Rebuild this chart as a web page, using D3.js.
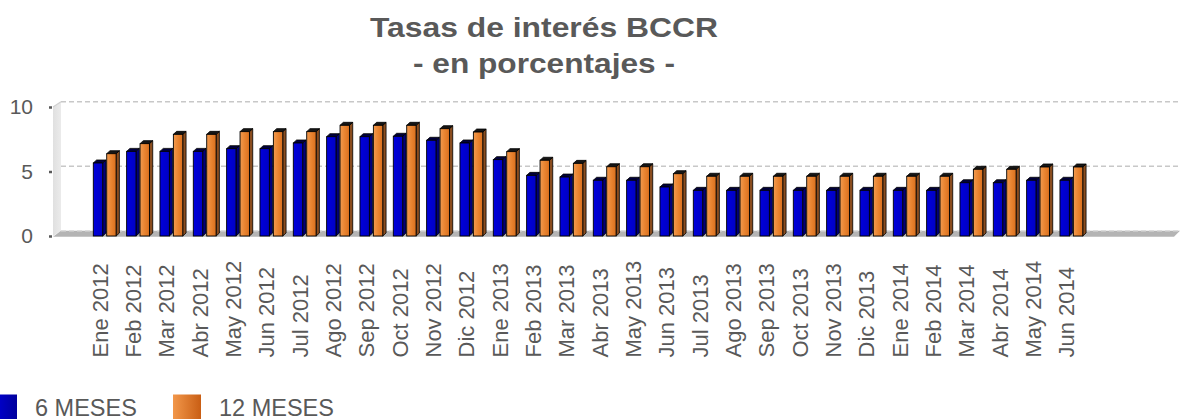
<!DOCTYPE html>
<html>
<head>
<meta charset="utf-8">
<script src="https://cdn.jsdelivr.net/npm/d3@7"></script>
<style>
  html, body { margin: 0; padding: 0; background: #fff; }
  svg { display: block; font-family: "Liberation Sans", Arial, sans-serif; }
</style>
</head>
<body>
<script>
// Tasas de interés BCCR, en porcentajes
const months = [
  "Ene 2012","Feb 2012","Mar 2012","Abr 2012","May 2012","Jun 2012",
  "Jul 2012","Ago 2012","Sep 2012","Oct 2012","Nov 2012","Dic 2012",
  "Ene 2013","Feb 2013","Mar 2013","Abr 2013","May 2013","Jun 2013",
  "Jul 2013","Ago 2013","Sep 2013","Oct 2013","Nov 2013","Dic 2013",
  "Ene 2014","Feb 2014","Mar 2014","Abr 2014","May 2014","Jun 2014"
];
const seriesNames = ["6 MESES", "12 MESES"];
const tasa6 = [
  5.66, 6.56, 6.56, 6.56, 6.77, 6.77, 7.21, 7.70, 7.70, 7.73, 7.42, 7.21,
  5.92, 4.70, 4.57, 4.32, 4.32, 3.80, 3.54, 3.54, 3.54, 3.54, 3.54, 3.54,
  3.54, 3.54, 4.13, 4.13, 4.32, 4.32
];
const tasa12 = [
  6.38, 7.16, 7.88, 7.88, 8.09, 8.09, 8.09, 8.58, 8.58, 8.58, 8.32, 8.06,
  6.54, 5.87, 5.63, 5.37, 5.37, 4.83, 4.63, 4.63, 4.63, 4.63, 4.63, 4.63,
  4.63, 4.63, 5.17, 5.17, 5.35, 5.35
];
const yTicks = [0, 5, 10];
const titleLines = ["Tasas de interés BCCR", "- en porcentajes -"];

const W = 1180, H = 419;
const textColor = "#595959";

const svg = d3.select("body").append("svg")
  .attr("width", W).attr("height", H);

// scales
const x = d3.scaleBand().domain(months).range([89.5, 1089.5]);
const xs = d3.scaleBand().domain(seriesNames).range([3.8, 26.6]).paddingInner(0.3);
const y = d3.scaleLinear().domain([0, 10]).range([236, 107]);

// 3D offsets: walls/floor depth and bar depth
const WDX = 8, WDY = 5.3;
const BDX = 3.3, BDY = 3;
const wallX = 53, plotRight = 1180;

// gradients
const defs = svg.append("defs");
function hGrad(id, stops) {
  const g = defs.append("linearGradient").attr("id", id)
    .attr("x1", "0%").attr("x2", "100%").attr("y1", "0%").attr("y2", "0%");
  stops.forEach(([o, c]) => g.append("stop").attr("offset", o).attr("stop-color", c));
}
hGrad("gBlue", [["0%", "#0000dc"], ["100%", "#0000c4"]]);
hGrad("gOrange", [["0%", "#f29a4e"], ["55%", "#e8822e"], ["100%", "#d96f1e"]]);
hGrad("gBlueKey", [["0%", "#0000e0"], ["100%", "#00009c"]]);
hGrad("gOrangeKey", [["0%", "#f2974a"], ["100%", "#c95e14"]]);
hGrad("gWall", [["0%", "#e0e0e0"], ["100%", "#ebebeb"]]);

const styles = {
  "6 MESES":  { front: "url(#gBlue)",   side: "#00007a", top: "#00003c" },
  "12 MESES": { front: "url(#gOrange)", side: "#8a4d1f", top: "#161616" }
};

const line = d3.line();

// side wall
svg.append("path")
  .attr("d", line([[wallX, y(10)], [wallX + WDX, y(10) - WDY], [wallX + WDX, y(0) - WDY], [wallX, y(0)]]) + "Z")
  .attr("fill", "url(#gWall)");
svg.append("path")
  .attr("d", line([[wallX, y(10)], [wallX + WDX, y(10) - WDY]]))
  .attr("stroke", "#d0d0d0").attr("stroke-width", 1.2).attr("fill", "none");

// floor
svg.append("path")
  .attr("d", line([[wallX, y(0) + 0.7], [wallX + WDX, y(0) - WDY], [plotRight, y(0) - WDY], [plotRight - 6, y(0) + 0.7]]) + "Z")
  .attr("fill", "#b4b4b4");

// gridlines on back wall
svg.append("g").selectAll("line").data(yTicks).join("line")
  .attr("x1", wallX + WDX).attr("x2", plotRight)
  .attr("y1", d => y(d) - WDY).attr("y2", d => y(d) - WDY)
  .attr("stroke", d => d === 0 ? "#dcdcdc" : "#c8c8c8")
  .attr("stroke-width", 1.5)
  .attr("stroke-dasharray", "5,3");

// y axis
const yAxis = svg.append("g")
  .attr("transform", `translate(${wallX - 1},0)`)
  .call(d3.axisLeft(y).tickValues(yTicks).tickSize(3).tickPadding(16));
yAxis.select(".domain").remove();
yAxis.selectAll(".tick line").attr("stroke", textColor).attr("stroke-width", 2.5);
yAxis.selectAll(".tick text")
  .attr("fill", textColor)
  .style("font-size", "21px")
  .style("font-family", "'Liberation Sans', Arial, sans-serif");

// bars
const rows = months.map((m, i) => ({ m, vals: [tasa6[i], tasa12[i]] }));
const groups = svg.append("g").selectAll("g").data(rows).join("g")
  .attr("transform", d => `translate(${x(d.m)},0)`);

groups.each(function (d) {
  const g = d3.select(this);
  seriesNames.forEach((s, k) => {
    const v = d.vals[k];
    const x0 = xs(s), w = xs.bandwidth();
    const yt = y(v), yb = y(0);
    const st = styles[s];
    // side face
    g.append("path")
      .attr("d", line([[x0 + w, yt], [x0 + w + BDX, yt - BDY], [x0 + w + BDX, yb - BDY], [x0 + w, yb]]) + "Z")
      .attr("fill", st.side).attr("stroke", "#000").attr("stroke-width", 0.8)
      .attr("stroke-linejoin", "round");
    // top face
    g.append("path")
      .attr("d", line([[x0, yt], [x0 + BDX, yt - BDY], [x0 + w + BDX, yt - BDY], [x0 + w, yt]]) + "Z")
      .attr("fill", st.top).attr("stroke", "#000").attr("stroke-width", 0.8)
      .attr("stroke-linejoin", "round");
    // front face
    g.append("rect")
      .attr("x", x0).attr("y", yt)
      .attr("width", w).attr("height", yb - yt)
      .attr("fill", st.front).attr("stroke", "#000").attr("stroke-width", 0.9);
  });
});

// category labels
svg.append("g").selectAll("text").data(months).join("text")
  .attr("transform", d => `translate(${x(d) + 10.3},357.5) rotate(-90)`)
  .attr("dy", "0.35em")
  .attr("text-anchor", "start")
  .attr("fill", textColor)
  .style("font-size", "22px")
  .text(d => d);

// title
const titleY = [36.7, 73.3];
const titleW = [348, 262];
svg.append("g").selectAll("text").data(titleLines).join("text")
  .attr("x", 544).attr("y", (d, i) => titleY[i])
  .attr("text-anchor", "middle")
  .attr("textLength", (d, i) => titleW[i])
  .attr("lengthAdjust", "spacingAndGlyphs")
  .attr("fill", textColor)
  .style("font-size", "28px").style("font-weight", "bold")
  .text(d => d);

// legend
const legendX = [-11, 173];
const legendFill = ["url(#gBlueKey)", "url(#gOrangeKey)"];
const leg = svg.append("g").selectAll("g").data(seriesNames).join("g")
  .attr("transform", (d, i) => `translate(${legendX[i]},394.5)`);
leg.append("rect")
  .attr("width", 28).attr("height", 28)
  .attr("fill", (d, i) => legendFill[i]);
leg.append("text")
  .attr("x", 46).attr("y", 21)
  .attr("fill", textColor)
  .style("font-size", "23.5px")
  .text(d => d);
</script>
</body>
</html>
